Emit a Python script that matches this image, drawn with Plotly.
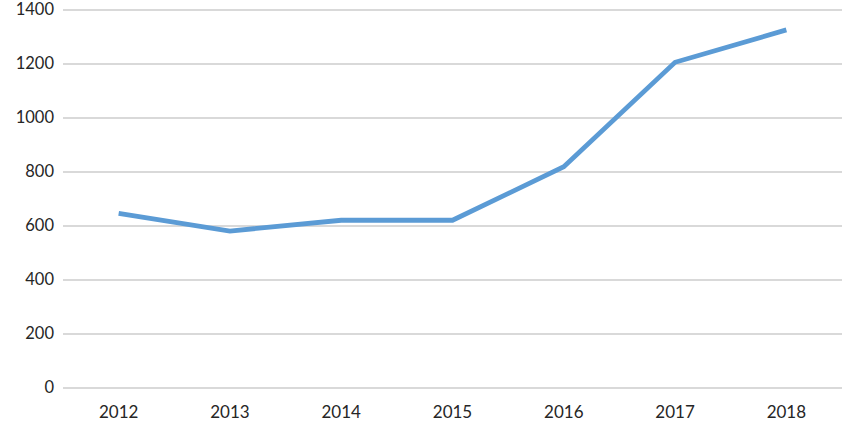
import plotly.graph_objects as go

years = ["2012", "2013", "2014", "2015", "2016", "2017", "2018"]
values = [645, 580, 620, 620, 818, 1205, 1325]
y_ticks = [0, 200, 400, 600, 800, 1000, 1200, 1400]

fig = go.Figure()
fig.add_trace(go.Scatter(
    x=years, y=values, mode="lines",
    line=dict(color="#5B9BD5", width=4.8),
    hoverinfo="x+y",
))

font = dict(family="Lato, Open Sans, Arial", size=17, color="#262626")
yfont = dict(family="Lato, Open Sans, Arial", size=16.5, color="#262626")

fig.update_layout(
    width=843, height=423,
    margin=dict(l=63, r=1, t=8, b=34),
    paper_bgcolor="white", plot_bgcolor="white",
    showlegend=False,
    font=font,
    xaxis=dict(
        type="category", range=[-0.5, 6.5],
        showgrid=False, showline=False, zeroline=False,
        ticks="", tickfont=font, automargin=False,
        ticklabelstandoff=11,
    ),
    yaxis=dict(
        range=[-5, 1406], tickvals=y_ticks,
        showgrid=True, gridcolor="#D9D9D9", gridwidth=1.5,
        zeroline=False, showline=False, ticks="",
        tickfont=yfont, ticklabelstandoff=8, automargin=False,
        ticklabeloverflow="allow",
    ),
)

post = (
    "document.body.style.margin='0';"
    "document.body.style.overflow='hidden';"
    "var gd=document.getElementById('{plot_id}');"
    "Plotly.relayout(gd,{width:843,height:423});"
)

fig.write_html("out.html", post_script=post, config={"displayModeBar": False})
